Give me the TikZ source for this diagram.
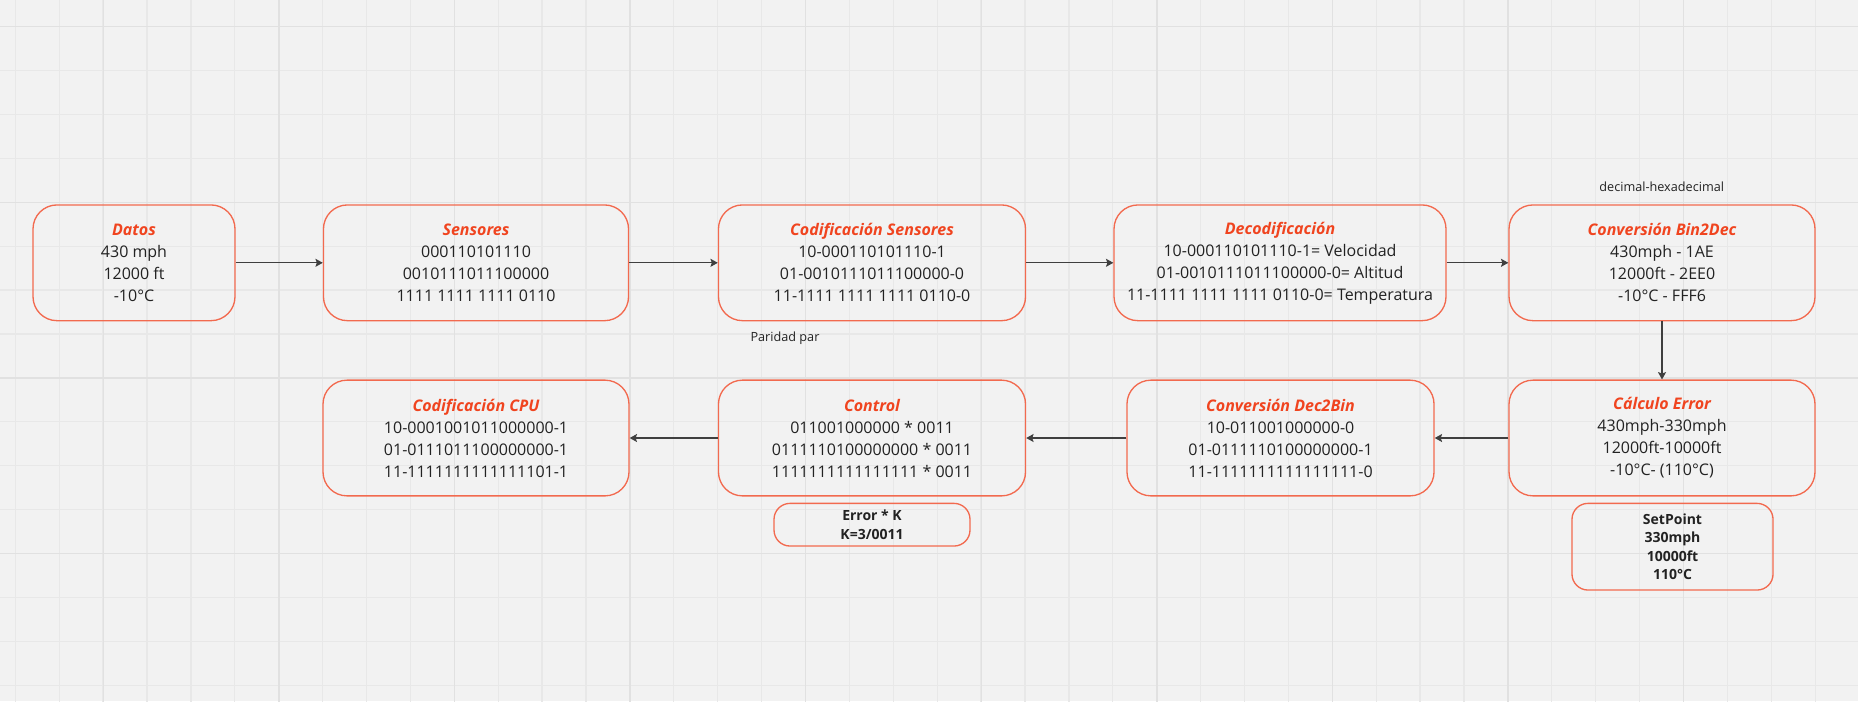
\documentclass[tikz,border=0pt]{standalone}
\usepackage{fontspec}
\setmainfont{Open Sans}
\usetikzlibrary{arrows.meta}

\definecolor{bggray}{HTML}{F2F2F2}
\definecolor{gridminor}{HTML}{E8E8E8}
\definecolor{gridmajor}{HTML}{E1E1E1}
\definecolor{boxred}{HTML}{F26A4F}
\definecolor{titlered}{HTML}{F0441F}
\definecolor{textgray}{HTML}{222222}
\definecolor{arrowgray}{HTML}{3F3F3F}

\newcommand{\boxtitle}[1]{\textcolor{titlered}{\bfseries\itshape #1}}

\tikzset{
  stagebox/.style={draw=boxred, line width=1pt, rounded corners=18pt,
    minimum height=86.8pt, inner sep=0pt, align=center, text=textgray,
    font=\fontsize{12}{16.5}\selectfont},
  notebox/.style={draw=boxred, line width=1pt, rounded corners=12pt,
    inner sep=0pt, align=center, text=textgray,
    font=\fontsize{10.5}{13.8}\selectfont\bfseries},
  sidenote/.style={text=textgray, inner sep=0pt, font=\fontsize{9.5}{12}\selectfont},
  flow/.style={draw=arrowgray, line width=1pt, -{Stealth[length=5.5pt, width=6pt, inset=1pt]}}
}

\begin{document}
\begin{tikzpicture}[x=0.75pt, y=-0.75pt]
\fill[bggray] (0,0) rectangle (1858,701);
\useasboundingbox (0,0) rectangle (1858,701);

% grid
\begin{scope}[shift={(15.3,26.7)}]
\draw[gridminor, line width=1pt, step=32.925pt] (-20,-30) grid (1850,680);
\end{scope}
\begin{scope}[shift={(103.3,26.7)}]
\draw[gridmajor, line width=1pt, step=131.7pt] (-110,-30) grid (1760,680);
\end{scope}

% first row
\node[stagebox, minimum width=151.5pt] (datos) at (134, 262.8)
  {\boxtitle{Datos}\\430 mph\\12000 ft\\-10°C};
\node[stagebox, minimum width=228.8pt] (sensores) at (476, 262.8)
  {\boxtitle{Sensores}\\000110101110\\0010111011100000\\1111 1111 1111 0110};
\node[stagebox, minimum width=230.3pt] (codsens) at (872, 262.8)
  {\boxtitle{Codificación Sensores}\\10-000110101110-1\\01-0010111011100000-0\\11-1111 1111 1111 0110-0};
\node[stagebox, minimum width=249pt] (decod) at (1280, 262.8)
  {\boxtitle{Decodificación}\\10-000110101110-1= Velocidad\\01-0010111011100000-0= Altitud\\11-1111 1111 1111 0110-0= Temperatura};
\node[stagebox, minimum width=229.5pt] (bin2dec) at (1662, 262.8)
  {\boxtitle{Conversión Bin2Dec}\\430mph - 1AE\\12000ft - 2EE0\\-10°C - FFF6};

% second row
\node[stagebox, minimum width=229.5pt] (calcerr) at (1662, 438)
  {\boxtitle{Cálculo Error}\\430mph-330mph\\12000ft-10000ft\\-10°C- (110°C)};
\node[stagebox, minimum width=230.3pt] (dec2bin) at (1280.5, 438)
  {\boxtitle{Conversión Dec2Bin}\\10-011001000000-0\\01-0111110100000000-1\\11-1111111111111111-0};
\node[stagebox, minimum width=230.3pt] (control) at (872, 438)
  {\boxtitle{Control}\\011001000000 * 0011\\0111110100000000 * 0011\\1111111111111111 * 0011};
\node[stagebox, minimum width=229.5pt] (codcpu) at (476, 438)
  {\boxtitle{Codificación CPU}\\10-0001001011000000-1\\01-0111011100000000-1\\11-1111111111111101-1};

% small boxes and notes
\node[notebox, minimum width=150.8pt, minimum height=65pt] (setpoint) at (1672.5, 546.7)
  {SetPoint\\330mph\\10000ft\\110°C};
\node[notebox, minimum width=147pt, minimum height=32pt] (gaink) at (872, 524.7)
  {Error * K\\K=3/0011};
\node[sidenote] (paridad) at (785, 337.7) {Paridad par};
\node[sidenote] (dechex) at (1661.7, 186.7) {decimal-hexadecimal};

% connectors
\draw[flow] (datos) -- (sensores);
\draw[flow] (sensores) -- (codsens);
\draw[flow] (codsens) -- (decod);
\draw[flow] (decod) -- (bin2dec);
\draw[flow] (bin2dec) -- (calcerr);
\draw[flow] (calcerr) -- (dec2bin);
\draw[flow] (dec2bin) -- (control);
\draw[flow] (control) -- (codcpu);
\end{tikzpicture}
\end{document}
